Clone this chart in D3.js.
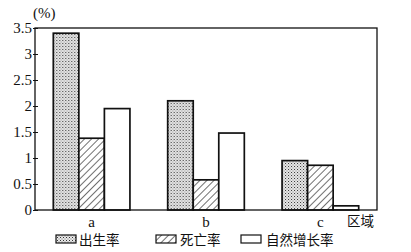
<!DOCTYPE html>
<html>
<head>
<meta charset="utf-8">
<script src="https://cdn.jsdelivr.net/npm/d3@7"></script>
<style>
  html, body { margin: 0; padding: 0; background: #fff; }
  svg { display: block; }
  .num { font-family: "Liberation Serif", "DejaVu Serif", serif; font-size: 15px; fill: #111; }
  .cjk { font-family: "Noto Sans CJK SC", sans-serif; font-size: 13.5px; fill: #111; }
</style>
</head>
<body>
<svg id="chart" width="411" height="252"></svg>
<script>
// Regions and rates (%)
const regions = ["a", "b", "c"];
const seriesNames = ["出生率", "死亡率", "自然增长率"];
const birthRate = [3.4, 2.1, 0.95];
const deathRate = [1.38, 0.58, 0.86];
const naturalGrowth = [1.95, 1.48, 0.08];
const yTicks = [0, 0.5, 1, 1.5, 2, 2.5, 3, 3.5];
const yTickLabels = ["0", "0.5", "1", "1.5", "2", "2.5", "3", "3.5"];

const rows = regions.map((r, i) => ({
  region: r,
  values: [birthRate[i], deathRate[i], naturalGrowth[i]]
}));

const svg = d3.select("#chart");
const margin = { left: 35, top: 28, right: 34, bottom: 42 };
const W = 411, H = 252;
const plotW = W - margin.left - margin.right;
const plotH = H - margin.top - margin.bottom;

// Fill patterns: stippled, diagonal hatch, plain white
const defs = svg.append("defs");
const dots = defs.append("pattern")
  .attr("id", "dots").attr("patternUnits", "userSpaceOnUse")
  .attr("width", 3).attr("height", 3);
dots.append("rect").attr("width", 3).attr("height", 3).attr("fill", "#e8e8e8");
dots.append("rect").attr("x", 0).attr("y", 0).attr("width", 1).attr("height", 1).attr("fill", "#333");
dots.append("rect").attr("x", 1.5).attr("y", 1.5).attr("width", 1).attr("height", 1).attr("fill", "#777");

const hatch = defs.append("pattern")
  .attr("id", "hatch").attr("patternUnits", "userSpaceOnUse")
  .attr("width", 5).attr("height", 5)
  .attr("patternTransform", "rotate(45)");
hatch.append("rect").attr("width", 5).attr("height", 5).attr("fill", "#fff");
hatch.append("line").attr("x1", 0).attr("y1", 0).attr("x2", 0).attr("y2", 5)
  .attr("stroke", "#111").attr("stroke-width", 1.2);

const fills = ["url(#dots)", "url(#hatch)", "#fff"];

const g = svg.append("g").attr("transform", `translate(${margin.left},${margin.top})`);

const x0 = d3.scaleBand().domain(regions).range([0, plotW]).paddingInner(0.33).paddingOuter(0.16);
const x1 = d3.scaleBand().domain(d3.range(3)).range([0, x0.bandwidth()]).padding(0);
const y = d3.scaleLinear().domain([0, 3.5]).range([plotH, 0]);

// Bars
const groups = g.selectAll("g.grp").data(rows).join("g")
  .attr("class", "grp")
  .attr("transform", d => `translate(${x0(d.region)},0)`);
groups.selectAll("rect").data(d => d.values).join("rect")
  .attr("x", (d, i) => x1(i))
  .attr("y", d => y(d))
  .attr("width", x1.bandwidth())
  .attr("height", d => y(0) - y(d))
  .attr("fill", (d, i) => fills[i])
  .attr("stroke", "#111")
  .attr("stroke-width", 1.7);

// Frame: left, top, right and bottom lines
g.append("rect").attr("x", 0).attr("y", 0).attr("width", plotW).attr("height", plotH)
  .attr("fill", "none").attr("stroke", "#111").attr("stroke-width", 1.3);

// Y axis with short ticks crossing the axis line
const yAxis = d3.axisLeft(y).tickValues(yTicks)
  .tickFormat((d, i) => yTickLabels[i]).tickSizeInner(0).tickSizeOuter(0).tickPadding(3);
const ya = g.append("g").call(yAxis);
ya.select(".domain").remove();
ya.selectAll(".tick line").attr("x1", -2).attr("x2", 3).attr("stroke", "#111");
ya.selectAll("text").attr("class", "num").attr("font-family", null).attr("font-size", null);

// X axis category labels
const xAxis = d3.axisBottom(x0).tickSize(0).tickPadding(6);
const xa = g.append("g").attr("transform", `translate(0,${plotH})`).call(xAxis);
xa.select(".domain").remove();
xa.selectAll("text").attr("class", "num").attr("font-family", null).attr("font-size", null);

// Axis titles
svg.append("text").attr("class", "num").attr("x", 33).attr("y", 18).text("(%)");
svg.append("text").attr("class", "cjk").attr("x", 347).attr("y", 226).attr("font-size", 14).text("区域");

// Legend
const legendItems = [
  { sx: 56, tx: 79 },
  { sx: 156, tx: 180 },
  { sx: 241, tx: 266 }
];
const lg = svg.append("g");
legendItems.forEach((p, i) => {
  lg.append("rect").attr("x", p.sx).attr("y", 235).attr("width", 20).attr("height", 8)
    .attr("fill", fills[i]).attr("stroke", "#111").attr("stroke-width", 1.2);
  lg.append("text").attr("class", "cjk").attr("x", p.tx).attr("y", 245).text(seriesNames[i]);
});
</script>
</body>
</html>
